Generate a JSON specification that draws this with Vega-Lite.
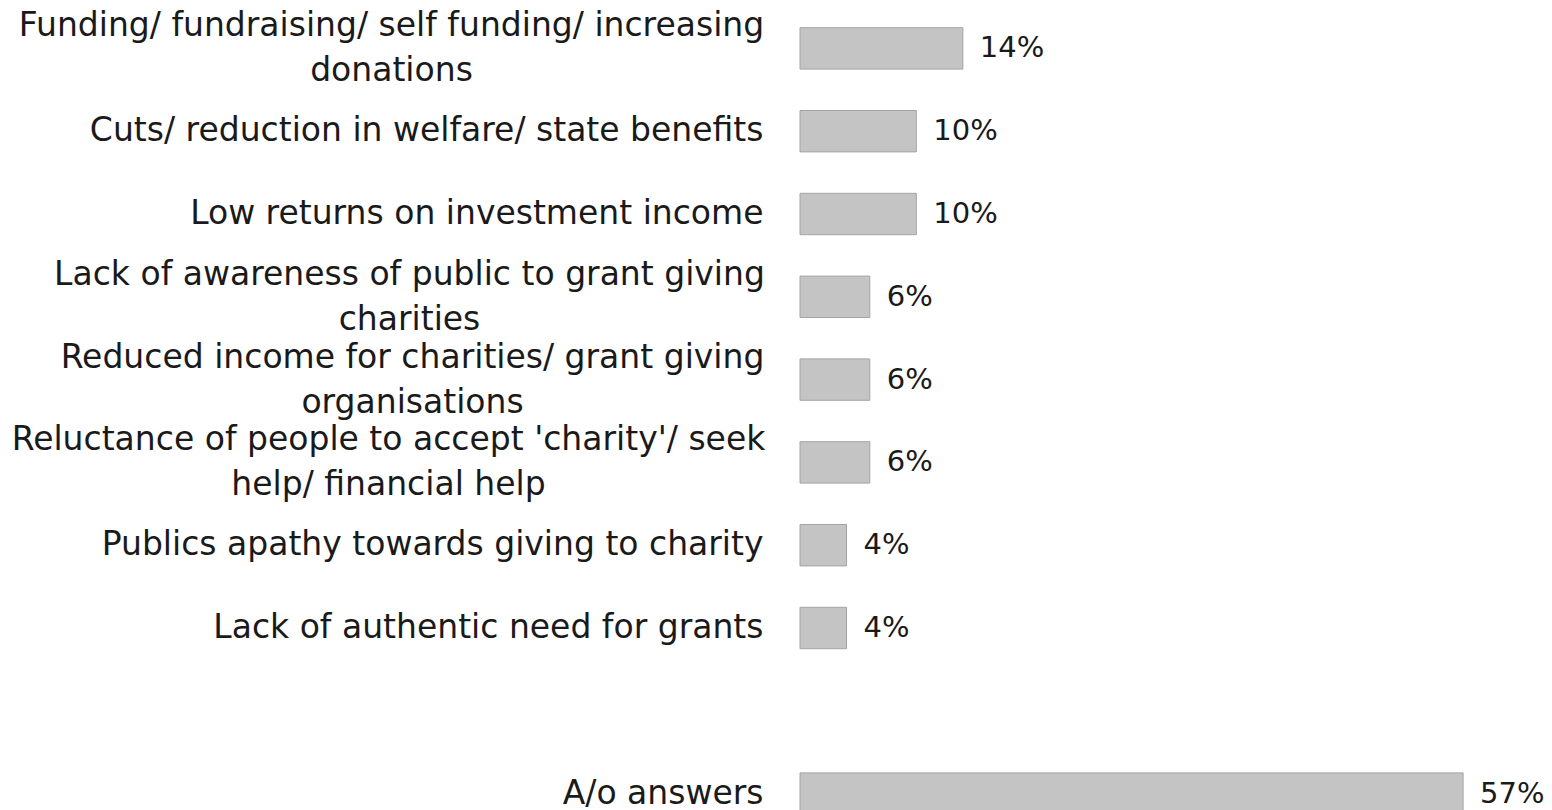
{
  "$schema": "https://vega.github.io/schema/vega-lite/v6.json",
  "width": 698,
  "height": 828,
  "autosize": {"type": "none"},
  "padding": {"left": 800, "top": 7, "right": 54, "bottom": 0},
  "background": "white",
  "config": {"view": {"stroke": null}, "font": "DejaVu Sans"},
  "data": {
    "values": [
      {"cat": "Funding/ fundraising/ self funding/ increasing|donations", "pct": 0.14},
      {"cat": "Cuts/ reduction in welfare/ state benefits", "pct": 0.10},
      {"cat": "Low returns on investment income", "pct": 0.10},
      {"cat": "Lack of awareness of public to grant giving|charities", "pct": 0.06},
      {"cat": "Reduced income for charities/ grant giving|organisations", "pct": 0.06},
      {"cat": "Reluctance of people to accept 'charity'/ seek|help/ financial help", "pct": 0.06},
      {"cat": "Publics apathy towards giving to charity", "pct": 0.04},
      {"cat": "Lack of authentic need for grants", "pct": 0.04},
      {"cat": "A/o answers", "pct": 0.57}
    ]
  },
  "encoding": {
    "y": {
      "field": "cat",
      "type": "nominal",
      "sort": null,
      "scale": {
        "domain": [
          "Funding/ fundraising/ self funding/ increasing|donations",
          "Cuts/ reduction in welfare/ state benefits",
          "Low returns on investment income",
          "Lack of awareness of public to grant giving|charities",
          "Reduced income for charities/ grant giving|organisations",
          "Reluctance of people to accept 'charity'/ seek|help/ financial help",
          "Publics apathy towards giving to charity",
          "Lack of authentic need for grants",
          "",
          "A/o answers"
        ],
        "paddingInner": 0.5,
        "paddingOuter": 0.25
      },
      "axis": {
        "title": null,
        "ticks": false,
        "domain": false,
        "labelFontSize": 33,
        "labelColor": "#1a1a1a",
        "labelLimit": 0,
        "labelLineHeight": 45,
        "labelAlign": {"condition": {"test": "indexof(datum.value, '|') >= 0", "value": "center"}, "value": "right"},
        "labelPadding": {
          "condition": [
            {"test": "indexof(datum.value, 'Funding') === 0", "value": 409},
            {"test": "indexof(datum.value, 'Lack of awareness') === 0", "value": 391},
            {"test": "indexof(datum.value, 'Reduced') === 0", "value": 388},
            {"test": "indexof(datum.value, 'Reluctance') === 0", "value": 412}
          ],
          "value": 37
        },
        "labelOffset": {"condition": {"test": "indexof(datum.value, '|') >= 0", "value": -22}, "value": 0},
        "labelExpr": "split(datum.label, '|')"
      }
    },
    "x": {
      "field": "pct",
      "type": "quantitative",
      "scale": {"domain": [0, 0.6], "nice": false},
      "axis": null
    }
  },
  "layer": [
    {
      "mark": {"type": "bar", "fill": "#c4c4c4", "stroke": "#a4a4a4", "strokeWidth": 1}
    },
    {
      "mark": {"type": "text", "align": "left", "baseline": "middle", "dx": 17, "fontSize": 29, "color": "#1a1a1a"},
      "encoding": {"text": {"field": "pct", "type": "quantitative", "format": ".0%"}}
    }
  ]
}
